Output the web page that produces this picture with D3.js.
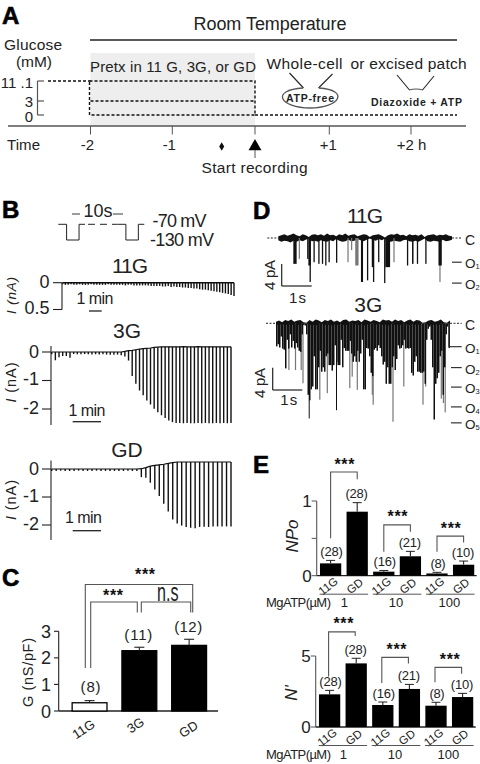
<!DOCTYPE html>
<html><head><meta charset="utf-8">
<script src="https://cdn.jsdelivr.net/npm/d3@7/dist/d3.min.js"></script>
<style>html,body{margin:0;background:#fff}svg{display:block}text{font-family:"Liberation Sans",Arial,sans-serif;fill:#222}</style>
</head><body><svg id="c" width="480" height="764"></svg>
<script>
// ---------- data ----------
const timeHours=[-2,-1,0,1,2];
const timeLabels=["-2","-1","","+1","+2 h"];
const glucoseLevels=[11.1,3,0];
const glucoseLabels=["11 .1","3","0"];
const stimTime=[0,1.4,1.4,3.5,3.5,4.5];
const stimMv=[-70,-70,-130,-130,-70,-70];
const sweeps11G=[.03,.04,.04,.03,.04,.04,.03,.04,.04,.04,.03,.04,.04,.04,.04,.04,.03,.04,.04,.04,.04,.04,.05,.04,.04,.05,.05,.05,.05,.05,.05,.06,.06,.06,.06,.07,.07,.06,.08,.07,.08,.08,.09,.09,.10,.10,.11,.11,.12,.13,.13,.14,.15,.16,.17,.18,.19,.20,.21,.23,.25];
const sweeps3G=[-.08,-.29,-.18,-.14,-.14,-.2,-.07,-.08,-.08,-.07,-.08,-.09,-.08,-.09,-.08,-.09,-.1,-.1,-.09,-.11,-.16,-.3,-.84,-1.11,-1.35,-1.52,-1.7,-1.84,-1.99,-2.11,-2.22,-2.32,-2.4,-2.46,-2.49,-2.49,-2.5,-2.49,-2.5,-2.5,-2.49,-2.5,-2.49,-2.5,-2.5,-2.49,-2.5,-2.49,-2.5,-2.49];
const base3G=[0,0,0,0,0,0,0,0,0,0,0,0,0,0,0,0,0,0,0,0,.02,.05,.06,.08,.1,.12,.13,.14,.16,.17,.18,.18,.18,.18,.18,.18,.19,.18,.18,.18,.19,.18,.18,.18,.18,.18,.18,.18,.18,.18];
const sweepsGD=[-.07,-.07,-.06,-.07,-.07,-.07,-.06,-.07,-.07,-.07,-.06,-.07,-.07,-.07,-.07,-.07,-.07,-.06,-.07,-.07,-.29,-.31,-.49,-.73,-.96,-1.24,-1.52,-1.8,-1.95,-2.02,-2.07,-2.1,-2.12,-2.07,-2.06,-2.07,-2.05,-2.05,-2.05,-2.05,-2.05];
const baseGD=[0,0,0,0,0,0,0,0,0,0,0,0,0,0,0,0,0,0,0,0,.01,.05,.1,.13,.15,.17,.2,.23,.25,.25,.25,.25,.25,.25,.25,.25,.25,.25,.25,.25,.25];
// single channel, 11G: open events [time s, duration s, depth pA]
const open11G=[[.5,.11,4.7],[.96,.03,3.8],[1,.08,5],[1.04,.03,8],[1.17,.03,4.4],[1.33,.03,4.7],[1.45,.03,4.7],[1.56,.03,5],[1.67,.03,4.4],[1.92,.03,4.5],[2.75,.07,8],[2.95,.03,7.7],[3.11,.03,5.3],[3.15,.03,8],[3.32,.03,4.4],[3.52,.03,8.2],[3.56,.16,5.3],[4.28,.04,5],[4.45,.05,4.7],[4.61,.03,4.7],[4.89,.03,4.7],[5.33,.11,5]];
const faint11G=[[.68,.02,3.8],[2.3,.03,4.4],[2.42,.03,2.2],[2.56,.11,5],[3.83,.03,4.4],[5.36,.02,8]];
const bandUp11G=[.3,.5,.7,.4,.6,.8,.5,.3,.7,.5,.2,.6,.7,.5,.7,.4,.8,.5,.6,.3,.7,.5,.8,.4,.6,.7,.3,.5,.7,.6,.2,.5,.6,.7,.4,.1,.5,.7,.6,.8,.5,.6,.3,.7,.5,.6,.4,.7,.2,.5,.6,.7,.4,.6,.5,.7,.4,.3];
const bandDn11G=[.4,.7,.5,.6,.8,.5,.7,.4,.6,.3,.1,.6,.5,.7,.4,.6,.7,.4,.6,.2,.5,.7,.6,.3,.6,.5,.2,.4,.6,.3,.1,.3,.5,.2,.4,.1,.6,.7,.5,.6,.7,.4,.3,.6,.7,.5,.7,.4,.1,.6,.7,.5,.6,.7,.3,.6,.5,.3];
// single channel, 3G: closed-to-open depth every 0.05 s, plus resolved brief openings
const depth3G=[4.2,3.8,4.4,2.4,4.6,4.8,8.2,3,4.6,2,4.4,3.2,4.6,3.6,4.4,5,5.2,2,.3,.4,2,13,14,12,11.5,6,12,12,8,5,8.8,8,8.8,6,5.5,7.6,7.6,8.6,7.6,4,7,7.6,7.6,3,8,4.5,5,5,5,3.2,5.5,7,6,7,5,7,5.5,3,12,12,4.5,4.6,6,9,9.6,4.8,4.5,5,4,4.5,6,7.5,7,11,8,11,11,8,6,8.5,6.5,4,4.6,4.5,4,3,4.6,4.5,4.6,4.5,9,9.5,7,6,8.8,8.8,9,9,8.8,11,3,1,.6,3,8,17.5,11,10,9,6,5,13,8,2,.6,4.5];
const spikes3G=[[1.09,17.3],[2,15.8]];
const faint3G=[[.41,8.5],[.63,8.5],[.82,8.5],[.88,10.9],[1.44,13.9],[1.69,12.7],[2.44,11.8],[2.52,9.7],[2.69,12.1],[3.19,13],[3.22,14.8],[3.88,17.9],[4.24,11.5],[4.88,14.8],[4.97,11.5],[5.49,13.7],[5.56,14.5],[5.62,16.2]];
const bandUp3G=[.3,.5,.2,.6,.4,.7,.3,.5,.6,.2,.1,.6,.3,.7,.5,.2,.6,.4,.7,.3,.5,.2,.6,.7,.3,.5,.4,.6,.2,.7,.5,.3,.6,.4,.2,.7,.5,.6,.3,.7,.4,.6,.2,.5,.7,.3,.6,.5,.1,.2,.5,.6,.3,.4,.7,.2,.1,.5];
const bandDn3G=[.2,.3,.1,.3,.2,.4,.1,.3,.3,.1,0,.3,.2,.4,.2,.1,.3,.2,.4,.2,.3,.1,.3,.3,.2,.3,.2,.3,.1,.4,.2,.1,.3,.2,.1,.3,.2,.4,.1,.3,.2,.3,.1,.2,.3,.1,.3,.2,0,.1,.3,.3,.2,.2,.3,.1,0,.2];
const levels11G=[["1",4.4],["2",8.2]];
const levels3G=[["1",4.25],["2",8.05],["3",11.6],["4",15.2],["5",18.1]];
// panel C
const cCats=["11G","3G","GD"];
const cVals=[.31,2.27,2.47];
const cErr=[.39,2.4,2.7];
const cN=["(8)","(11)","(12)"];
// panel E
const eCats=["11G","GD","11G","GD","11G","GD"];
const atpDoses=["1","10","100"];
const npoVals=[.165,.857,.054,.26,.03,.147];
const npoErr=[.205,.978,.07,.326,.045,.196];
const eN=["(28)","(28)","(16)","(21)","(8)","(10)"];
const nVals=[2.3,4.48,1.55,2.68,1.5,2.11];
const nErr=[2.58,4.84,1.76,3,1.74,2.37];
// brackets: [from bar, to bar, top value, left end value, right end value]
const npoBr=[[0,1,1.388,.5,1.29],[2,3,.68,.32,.59],[4,5,.53,.32,.445]];
const nBr=[[0,1,6.7,3.55,6.4],[2,3,4.9,3.1,4.47],[4,5,4.2,3.15,3.75]];

// ---------- helpers ----------
const svg=d3.select("#c");
const ink="#222",gr="#555";
function T(s,x,y,o={}){
  const t=(o.g||svg).append("text").text(s).attr("x",x).attr("y",y)
   .attr("font-size",o.fs||14).attr("text-anchor",o.a||"start");
  if(o.len)t.attr("textLength",o.len).attr("lengthAdjust","spacing");
  if(o.b)t.attr("font-weight","bold");
  if(o.i)t.attr("font-style","italic");
  if(o.tr)t.attr("transform",o.tr);
  if(o.fill)t.style("fill",o.fill);
  return t;
}
function L(x1,y1,x2,y2,c=ink,w=1,dash){
  const l=svg.append("line").attr("x1",x1).attr("y1",y1).attr("x2",x2).attr("y2",y2).attr("stroke",c).attr("stroke-width",w);
  if(dash)l.attr("stroke-dasharray",dash);return l;
}
const stars=(x,y,fs=16)=>T("***",x,y,{a:"middle",fs,b:1,len:fs*1.25,fill:"#111"});
const panel=(s,x,y)=>T(s,x,y,{fs:24,b:1,fill:"#000"}).style("stroke","#000").style("stroke-width",.6);

// ---------- panel A ----------
panel("A",2,24);
const xT=d3.scaleLinear().domain(timeHours).range([90.5,172.3,255,329.3,411]);
const yG=d3.scaleLinear().domain([11.1,3,0]).range([81,101,115]);
T("Room Temperature",270,30,{a:"middle",fs:18,len:153});
L(90,40,457,40,ink,1.4);
svg.append("rect").attr("x",xT(-2)).attr("y",53).attr("width",xT(0)-xT(-2)).attr("height",73).attr("fill","#eee");
T("Pretx in 11 G, 3G, or GD",90,72,{fs:15,len:166});
T("Glucose",4,50,{fs:15.5,len:58});
T("(mM)",16,66.5,{fs:15.5,len:36});
L(37.5,yG(11.1),37.5,yG(0),gr,1.2);
glucoseLevels.forEach((g,i)=>{
  L(37.5,yG(g),44,yG(g),gr,1.2);
  T(glucoseLabels[i],33,yG(g)+(i==0?7:i==1?6:7),{a:"end",fs:15});
});
const dsh="3 2";
L(48,yG(11.1),xT(-2),yG(11.1),"#111",1.4,dsh);
svg.append("rect").attr("x",xT(-2)-1).attr("y",yG(11.1)).attr("width",xT(0)-xT(-2)+1).attr("height",yG(0)-yG(11.1)).attr("fill","none").attr("stroke","#111").attr("stroke-width",1.4).attr("stroke-dasharray",dsh);
L(xT(-2),yG(3),xT(0),yG(3),"#111",1.4,dsh);
L(xT(0),yG(0),457,yG(0),"#111",1.4,dsh);
T("Whole-cell",266.5,68.5,{fs:15.5,len:76});
T("or excised patch",350.5,68.5,{fs:15.5,len:116});
L(289.5,73,303.5,88,ink,1.1);L(332.5,74,318.5,88,ink,1.1);
svg.append("path").attr("d","M303,88 C270,90 280,108 310,108 C340,108 350,90 319,88").attr("fill","none").attr("stroke",gr).attr("stroke-width",1.3);
T("ATP-free",310,102,{a:"middle",fs:10.5,b:1,len:48});
L(397,75,409.5,90,ink,1.1);L(434,76,422.5,90,ink,1.1);
svg.append("path").attr("d","M409,90 Q416,88 423,90").attr("fill","none").attr("stroke",gr).attr("stroke-width",1.2);
T("Diazoxide + ATP",371,105.7,{fs:10.5,b:1,len:91});
L(8,126,466,126,gr,1.6);
timeHours.forEach((h,i)=>{
  L(xT(h),126,xT(h),134.5,gr,1);
  if(timeLabels[i])T(timeLabels[i],xT(h)+(i==4?.5:i==3?-1:-3),150,{a:"middle",fs:15});
});
T("Time",7,150,{fs:15,len:33});
svg.append("path").attr("d",d3.symbol(d3.symbolDiamond,22)()).attr("transform","translate(221.7,146.5)").attr("fill","#111");
svg.append("path").attr("d",d3.symbol(d3.symbolTriangle,72)()).attr("transform","translate(255,146.5)").attr("fill","#000");
L(255,150,255,158,gr,1);
T("Start recording",254.5,173,{a:"middle",fs:15.5,len:106});

// ---------- panel B ----------
panel("B",2,218);
T("10s",98,216.5,{a:"middle",fs:18,len:29});
L(72,214,80,214,ink,.9);L(113,214,123,214,ink,.9);
const xS=d3.scaleLinear().domain([0,10]).range([58.3,117.6]);
const yS=d3.scaleLinear().domain([-70,-130]).range([224.3,240]);
const stimLine=d3.line().x(d=>xS(d[0])).y(d=>yS(d[1]));
[0,10].forEach(off=>{
  svg.append("path").attr("d",stimLine(stimTime.map((t,i)=>[t+off,stimMv[i]]))).attr("fill","none").attr("stroke",ink).attr("stroke-width",1);
});
L(xS(5),yS(-70),xS(10),yS(-70),ink,1,"7 5");
T("-70 mV",152.5,226.5,{fs:18,len:54});
T("-130 mV",150,245.5,{fs:18,len:64});

function sweepPanel(o){
  const x=d3.scaleLinear().domain([0,o.vals.length-1]).range(o.xr);
  const y=d3.scaleLinear().domain(o.dom).range(o.yr);
  const b=o.base||o.vals.map(()=>0);
  svg.append("g").selectAll("line").data(o.vals).join("line")
   .attr("x1",(d,i)=>x(i)).attr("x2",(d,i)=>x(i))
   .attr("y1",(d,i)=>y(b[i])).attr("y2",d=>y(d))
   .attr("stroke","#111").attr("stroke-width",o.sw);
  svg.append("path").attr("d",d3.line().x((d,i)=>x(i)).y(d=>y(d))(b)).attr("fill","none").attr("stroke","#111").attr("stroke-width",o.lw);
  return y;
}
// 11G
T("11G",130,273.3,{a:"middle",fs:21,len:36});
const y11=sweepPanel({vals:sweeps11G,dom:[0,.5],yr:[282.7,309.5],xr:[62.5,234],sw:1.4,lw:1.5});
L(62,y11(0),62,y11(.5),ink,1.1);L(53,y11(0),62,y11(0),ink,1.1);L(53,y11(.5),62,y11(.5),ink,1.1);
T("0",49.5,287.5,{a:"end",fs:18});T("0.5",49.5,314,{a:"end",fs:18});
T("I (nA)",15.5,295.5,{a:"middle",fs:13.5,i:1,len:37,tr:"rotate(-90 15.5 295.5)"});
T("1 min",95,304,{a:"middle",fs:16,len:37});
L(89,311,101.7,311,ink,1.3);
// 3G
T("3G",127,338.3,{a:"middle",fs:21});
const y3=sweepPanel({vals:sweeps3G,base:base3G,dom:[0,-2],yr:[352,409],xr:[51.7,231],sw:1.4,lw:1.2});
L(51,346,51,425,ink,1.1);
[0,-1,-2].forEach(v=>{L(42,y3(v),51,y3(v),ink,1.1);T(v==0?"0":String(v),39,y3(v)+(v==0?5.5:4.5),{a:"end",fs:18});});
T("I (nA)",15.5,382.5,{a:"middle",fs:14.5,len:40,tr:"rotate(-90 15.5 382.5)"}).html('<tspan font-style="italic">I</tspan> (nA)');
T("1 min",87,416,{a:"middle",fs:16,len:37});
L(72.7,421.7,101,421.7,ink,1.3);
// GD
T("GD",127,457.3,{a:"middle",fs:21});
const yD=sweepPanel({vals:sweepsGD,base:baseGD,dom:[0,-2],yr:[469,525],xr:[51.7,231],sw:1.4,lw:1.2});
L(51,460.5,51,540,ink,1.1);
[0,-1,-2].forEach(v=>{L(42,yD(v),51,yD(v),ink,1.1);T(v==0?"0":String(v),39,yD(v)+(v==0?5.5:4.5),{a:"end",fs:18});});
T("I (nA)",15.5,500,{a:"middle",fs:14.5,len:40,tr:"rotate(-90 15.5 500)"}).html('<tspan font-style="italic">I</tspan> (nA)');
T("1 min",83.5,522.7,{a:"middle",fs:16,len:37});
L(72.7,530.7,101,530.7,ink,1.3);

// ---------- panel C ----------
panel("C",2,585.5);
const xC=d3.scaleBand().domain(d3.range(3)).range([60.7,218]).paddingInner(.3).paddingOuter(.23);
const yC=d3.scaleLinear().domain([0,3]).range([711,631.3]);
L(58.7,711,218,711,ink,1.4);L(58.7,631.3,58.7,711,ink,1.1);
d3.range(4).forEach(v=>{L(54,yC(v),58.7,yC(v),ink,1.1);T(String(v),51,yC(v)+6.5,{a:"end",fs:18});});
svg.append("g").selectAll("rect").data(cVals).join("rect")
 .attr("x",(d,i)=>xC(i)).attr("width",xC.bandwidth()).attr("y",d=>yC(d)).attr("height",d=>yC(0)-yC(d))
 .attr("fill",(d,i)=>i?"#000":"#fff").attr("stroke","#000").attr("stroke-width",1.3);
cErr.forEach((e,i)=>{const cx=xC(i)+xC.bandwidth()/2;L(cx,yC(cVals[i]),cx,yC(e),"#222",1.1);L(cx-5,yC(e),cx+5,yC(e),"#222",1.1);});
const cNy=[691.5,640,632];
cN.forEach((s,i)=>T(s,xC(i)+xC.bandwidth()/2+(i?-1:1),cNy[i],{a:"middle",fs:15,len:i?28:20}));
[[86,733],[138,729],[191,733]].forEach((p,i)=>T(cCats[i],p[0],p[1],{a:"middle",fs:13,tr:`rotate(-33 ${p[0]} ${p[1]})`}));
T("G (nS/pF)",33,672.5,{a:"middle",fs:14.5,len:69,tr:"rotate(-90 33 672.5)"});
const br=(x1,x2,yt,y1,y2,c=gr)=>svg.append("path").attr("d",`M${x1},${y1}V${yt}H${x2}V${y2}`).attr("fill","none").attr("stroke",c).attr("stroke-width",1.1);
br(85.3,192.7,584.5,668,612.5);
br(90.7,137.3,602,668,612.5);
br(141.3,190.7,602,612.5,612.5);
stars(145,580);stars(113,601);
svg.append("text").text("n.s").attr("transform","translate(157,600.5) scale(.62,1)").attr("font-size",26);

// ---------- panel D ----------
panel("D",253,219);
function channel(o){
  const x=d3.scaleLinear().domain([0,o.dur]).range(o.xr);
  const y=d3.scaleLinear().domain([0,4]).range([o.y0,o.y0+22]);
  L(o.xd[0],o.y0,o.xr[0],o.y0,"#222",1,"2 1.5");
  L(o.xr[1],o.y0,o.xd[1],o.y0,"#222",1,"2 1.5");
  const g=svg.append("g");
  const tb=i=>i/(o.up.length-1)*o.dur;
  g.append("path").attr("d",d3.area().x((d,i)=>x(tb(i))).y0((d,i)=>y(o.dn[i])).y1(d=>y(-d))(o.up)).attr("fill","#111");
  (o.faint||[]).forEach(e=>{const a=e.length==3;
    g.append("rect").attr("x",x(e[0])).attr("width",a?Math.max(1.2,x(e[1])-x(0)):1.2).attr("y",y(0)).attr("height",y(a?e[2]:e[1])-y(0)).attr("fill","#777");});
  (o.evts||[]).forEach(e=>{g.append("rect").attr("x",x(e[0])).attr("width",Math.max(1.3,x(e[1])-x(0))).attr("y",y(0)).attr("height",y(e[2])-y(0)).attr("fill","#111");});
  (o.spk||[]).forEach(e=>{g.append("rect").attr("x",x(e[0])).attr("width",1).attr("y",y(0)).attr("height",y(e[1])-y(0)).attr("fill","#111");});
  if(o.dep)g.append("g").selectAll("rect").data(o.dep).join("rect")
    .attr("x",(d,i)=>x(i*.05)).attr("width",1.5).attr("y",y(0)).attr("height",d=>y(d)-y(0)).attr("fill","#111");
  o.lev.forEach(l=>{
    L(o.tx(l[0]),y(l[1]),461.7,y(l[1]),"#333",1.2);
    const t=T("O",465,y(l[1])+6,{fs:13.5});
    t.append("tspan").text(l[0]).attr("font-size",7.5).attr("dy",1);
  });
  T("C",465,o.y0+6.5,{fs:14});
  return y;
}
T("11G",365,223.3,{a:"middle",fs:21,len:36});
channel({dur:5.78,xr:[278.3,452],xd:[267.3,461.7],y0:238,evts:open11G,faint:faint11G,up:bandUp11G,dn:bandDn11G,lev:levels11G,tx:()=>452});
L(281.7,264,281.7,286,ink,1.2);L(281.7,286,311.7,286,ink,1.2);
T("4 pA",274.5,275,{a:"middle",fs:15,len:30,tr:"rotate(-90 274.5 275)"});
T("1 s",297.5,302.7,{a:"middle",fs:15,len:17});
T("3G",368.3,311.7,{a:"middle",fs:21});
channel({dur:5.8,xr:[276,450],xd:[266,461.7],y0:323.3,dep:depth3G,spk:spikes3G,faint:faint3G,up:bandUp3G,dn:bandDn3G,lev:levels3G,tx:n=>n=="1"?449:451});
L(449,323,449,347,"#333",1.2);
L(272.7,367.7,272.7,390,ink,1.2);L(272.7,390,302.3,390,ink,1.2);
T("4 pA",265,383,{a:"middle",fs:15,len:30,tr:"rotate(-90 265 383)"});
T("1 s",288.7,405,{a:"middle",fs:15,len:17});

// ---------- panel E ----------
panel("E",253,472.7);
function barPanel(o){
  const x=d3.scaleBand().domain(d3.range(6)).range([o.x0,o.x0+159.6]).paddingInner(.2).paddingOuter(.1);
  const y=d3.scaleLinear().domain([0,o.max]).range([o.yb,o.yt]);
  const cx=i=>x(i)+x.bandwidth()/2;
  L(o.ax,o.yt,o.ax,o.yb,gr,1.1);L(o.ax,o.yb,o.ax+160,o.yb,ink,1.3);
  o.ticks.forEach(v=>{L(o.ax-5,y(v),o.ax,y(v),gr,1);});
  o.labs.forEach(v=>T(String(v),o.ax-5,y(v)+6,{a:"end",fs:17}));
  svg.append("g").selectAll("rect").data(o.vals).join("rect")
   .attr("x",(d,i)=>x(i)).attr("width",x.bandwidth()).attr("y",d=>y(d)).attr("height",d=>y(0)-y(d)).attr("fill","#000");
  o.err.forEach((e,i)=>{L(cx(i),y(o.vals[i]),cx(i),y(e),"#222",1.1);L(cx(i)-4.5,y(e),cx(i)+4.5,y(e),"#222",1);
    T(eN[i],cx(i)+(i%2?-.5:1),y(e)-4.5,{a:"middle",fs:13,len:eN[i].length>3?22.5:15});
    const lx=cx(i),ly=o.yb+13.5;
    T(eCats[i],lx,ly,{a:"middle",fs:11.5,tr:`rotate(-38 ${lx} ${ly})`});
  });
  o.br.forEach((b,k)=>{
    br(cx(b[0])+o.bo,cx(b[1])+o.bo,y(b[2]),y(b[3]),y(b[4]),gr);
    stars((cx(b[0])+cx(b[1]))/2+.5,y(b[2])-2.5);
  });
  [[0,1],[2,3],[4,5]].forEach((p,k)=>{
    L(x(p[0])-.3,o.yb+18.5,x(p[1])+x.bandwidth()+.3,o.yb+18.5,gr,1);
    T(atpDoses[k],(cx(p[0])+cx(p[1]))/2-(k==0?-.5:1),o.yb+31.5,{a:"middle",fs:13});
  });
  T("MgATP(µM)",266,o.yb+31.5,{fs:13,len:65});
}
barPanel({x0:317.3,ax:316.7,yb:575.7,yt:501,max:1,ticks:[0,.5,1],labs:[0,1],vals:npoVals,err:npoErr,br:npoBr,bo:0});
barPanel({x0:316.3,ax:315.7,yb:727,yt:656,max:5,ticks:[0,5],labs:[0,5],vals:nVals,err:nErr,br:nBr,bo:-1});
T("NPo",297.5,536,{a:"middle",fs:17,i:1,tr:"rotate(-90 297.5 536)",len:33});
T("N'",297,693,{a:"middle",fs:17,i:1,tr:"rotate(-90 297 693)"});
</script></body></html>
